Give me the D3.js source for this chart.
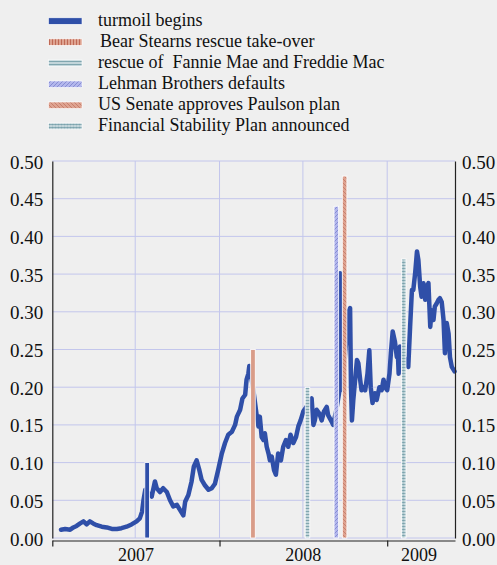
<!DOCTYPE html>
<html><head><meta charset="utf-8">
<script src="https://cdn.jsdelivr.net/npm/d3@7"></script>
<style>
html,body{margin:0;padding:0;background:#efefef;}
svg{display:block;font-family:"Liberation Serif","Times New Roman",serif;}
</style></head><body>
<svg id="chart" width="497" height="565"></svg>
<script>
// ---- data (days since 2007-01-01) ----
const lineDays = [19,28,39,46,53,60,68,75,82,90,97,108,119,130,141,151,162,173,184,191,196,199,203,
217,224,228,235,242,250,257,264,272,279,286,290,297,304,309,315,321,326,333,341,348,355,362,370,377,384,392,399,403,410,415,421,424,428,430,438,
446,450,453,457,461,464,468,472,475,479,484,488,493,499,504,510,515,520,526,532,537,542,548,556,
563,566,570,573,577,583,588,593,599,602,610,613,620,627,628,629,636,647,650,652,654,657,665,668,672,675,679,683,688,692,695,699,704,708,714,719,723,726,731,736,739,743,748,752,754,756,759,767,
777,781,785,788,792,796,799,803,806,810,814,817,821,825,828,832,835,839,843,846,850,854,857,861,865,868,872,878];
const lineValues = [0.011,0.012,0.011,0.014,0.016,0.019,0.022,0.018,0.022,0.019,0.017,0.015,0.014,0.012,0.012,0.013,0.015,0.018,0.022,0.026,0.035,0.050,0.064,
0.055,0.075,0.066,0.061,0.066,0.061,0.050,0.042,0.044,0.037,0.030,0.048,0.057,0.075,0.095,0.103,0.090,0.077,0.070,0.064,0.066,0.072,0.090,0.112,0.126,0.137,0.141,0.150,0.161,0.170,0.185,0.190,0.210,0.218,0.228,0.200,
0.163,0.148,0.161,0.134,0.130,0.139,0.121,0.112,0.103,0.108,0.090,0.084,0.112,0.103,0.121,0.130,0.121,0.137,0.126,0.134,0.148,0.156,0.168,0.175,
0.183,0.185,0.150,0.156,0.170,0.165,0.156,0.168,0.174,0.163,0.154,0.150,0.170,0.196,0.351,0.196,0.220,0.300,0.305,0.200,0.156,0.183,0.236,0.232,0.210,0.196,0.200,0.196,0.218,0.249,0.200,0.179,0.192,0.183,0.200,0.196,0.210,0.200,0.196,0.218,0.245,0.274,0.260,0.240,0.250,0.218,0.254,0.240,
0.227,0.280,0.329,0.329,0.351,0.380,0.369,0.333,0.320,0.338,0.316,0.333,0.338,0.280,0.302,0.289,0.307,0.311,0.316,0.318,0.313,0.289,0.245,0.285,0.271,0.240,0.227,0.221];

const eventNames = ["turmoil begins","Bear Stearns rescue take-over","rescue of  Fannie Mae and Freddie Mac","Lehman Brothers defaults","US Senate approves Paulson plan","Financial Stability Plan announced"];
const eventDays = [207,438,557,620,638,767];
const eventValues = [0.10,0.25,0.20,0.44,0.48,0.37];

const yTicks = [0,0.05,0.10,0.15,0.20,0.25,0.30,0.35,0.40,0.45,0.50];
const yearLabels = ["2007","2008","2009"];

// ---- setup ----
const base = new Date(2007,0,1);
const toDate = d => d3.timeDay.offset(base, d);
const L = 52.3, R = 455, T = 161, B = 538;
const x = d3.scaleTime().domain([base, toDate(879)]).range([L, R]);
const y = d3.scaleLinear().domain([0,0.5]).range([B, T]);
const svg = d3.select("#chart");
const blue = "#2f4fa8";

// patterns
const defs = svg.append("defs");
function pat(id, w, h, bg, draw){
  const p = defs.append("pattern").attr("id",id).attr("patternUnits","userSpaceOnUse").attr("width",w).attr("height",h);
  p.append("rect").attr("width",w).attr("height",h).attr("fill",bg);
  draw(p);
}
const ln = (p,x1,y1,x2,y2,c,w) => p.append("line").attr("x1",x1).attr("y1",y1).attr("x2",x2).attr("y2",y2).attr("stroke",c).attr("stroke-width",w||0.7);
pat("pBear",3,3,"#dea391",p=>ln(p,1.5,0,1.5,3,"#b85a45",0.8));
pat("pFannie",4,3,"#c2d5da",p=>ln(p,0,1.5,4,1.5,"#6f9ba5",0.8));
pat("pLehman",4,4,"#b3b7ec",p=>{ln(p,0,4,4,0,"#6a71c4",0.6);ln(p,-1,1,1,-1,"#6a71c4",0.6);ln(p,3,5,5,3,"#6a71c4",0.6);});
pat("pSenate",4,4,"#dea391",p=>{ln(p,0,0,4,4,"#b86650",0.6);ln(p,-1,3,1,5,"#b86650",0.6);ln(p,3,-1,5,1,"#b86650",0.6);});
pat("pFSP",3,3,"#c2d5da",p=>{ln(p,0,1.5,3,1.5,"#6f9ba5",0.7);ln(p,1.5,0.6,1.5,2.4,"#6f9ba5",0.5);});
const legendFills = [blue,"url(#pBear)","url(#pFannie)","url(#pLehman)","url(#pSenate)","url(#pFSP)"];
const barFills = [blue,"#d99c88","url(#pFannie)","url(#pLehman)","url(#pSenate)","url(#pFSP)"];

// gridlines
const grid = svg.append("g");
grid.selectAll("line.h").data(yTicks).join("line")
  .attr("x1",L).attr("x2",R).attr("y1",d=>y(d)).attr("y2",d=>y(d))
  .attr("stroke","#c3c6ec").attr("stroke-width",1);
const vDates = d3.timeMonth.every(6).range(d3.timeDay.offset(base,1), toDate(879));
grid.selectAll("line.v").data(vDates).join("line")
  .attr("x1",d=>x(d)).attr("x2",d=>x(d)).attr("y1",T).attr("y2",B)
  .attr("stroke","#c3c6ec").attr("stroke-width",1);

// line
const data = lineDays.map((d,i)=>({date:toDate(d), v:lineValues[i]}));
svg.append("path").datum(data)
  .attr("fill","none").attr("stroke",blue).attr("stroke-width",4.5)
  .attr("stroke-linejoin","round").attr("stroke-linecap","round")
  .attr("d", d3.line().x(d=>x(d.date)).y(d=>y(d.v)));

// event bars
const bw = 4.6;
svg.append("g").selectAll("rect").data(eventDays).join("rect")
  .attr("x",(d)=>x(toDate(d))-bw/2).attr("width",bw)
  .attr("y",(d,i)=>y(eventValues[i])).attr("height",(d,i)=>B-y(eventValues[i]))
  .attr("fill",(d,i)=>barFills[i]).attr("stroke","#ffffff").attr("stroke-width",0.8);

// axes
const fmt = d3.format(".2f");
const ax = svg.append("g").attr("transform",`translate(${L},0)`)
  .call(d3.axisLeft(y).tickValues(yTicks).tickFormat(fmt).tickSize(0).tickSizeOuter(0).tickPadding(9));
const ax2 = svg.append("g").attr("transform",`translate(${R},0)`)
  .call(d3.axisRight(y).tickValues(yTicks).tickFormat(fmt).tickSize(0).tickSizeOuter(0).tickPadding(7));
[ax,ax2].forEach(a=>{
  a.select(".domain").attr("stroke","#222").attr("stroke-width",1.2);
  a.selectAll("text").attr("font-family","Liberation Serif, serif").attr("font-size",19).attr("fill","#111").attr("dy","0.37em");
});
const yearDates = [new Date(2007,0,1),new Date(2008,0,1),new Date(2009,0,1)];
const axb = svg.append("g").attr("transform",`translate(0,540.5)`)
  .call(d3.axisBottom(x).tickValues(yearDates).tickFormat("").tickSize(6).tickSizeOuter(0));
axb.select(".domain").attr("stroke","#222").attr("stroke-width",1.2);
axb.selectAll(".tick line").attr("stroke","#222").attr("stroke-width",1.2);
const yearMid = yearLabels.map((t,i)=>{
  const a = x(yearDates[i]);
  const b = i<2 ? x(yearDates[i+1]) : R;
  return (a+b)/2;
});
svg.append("g").selectAll("text").data(yearLabels).join("text")
  .attr("x",(d,i)=>yearMid[i]-(i===2?2:0)).attr("y",561).attr("text-anchor","middle")
  .attr("font-size",18).attr("fill","#111").text(d=>d);

// legend
const lg = svg.append("g");
eventNames.forEach((n,i)=>{
  const by = 25.8 + 21.05*i;
  lg.append("rect").attr("x",48.5).attr("y",by-8).attr("width",33.5).attr("height",6.5)
    .attr("fill",legendFills[i]).attr("stroke","#ffffff").attr("stroke-width",0.6);
  lg.append("text").attr("x", i===1?100:98).attr("y",by).attr("font-size",18)
    .attr("fill","#111").style("white-space","pre").text(n);
});
</script>
</body></html>
